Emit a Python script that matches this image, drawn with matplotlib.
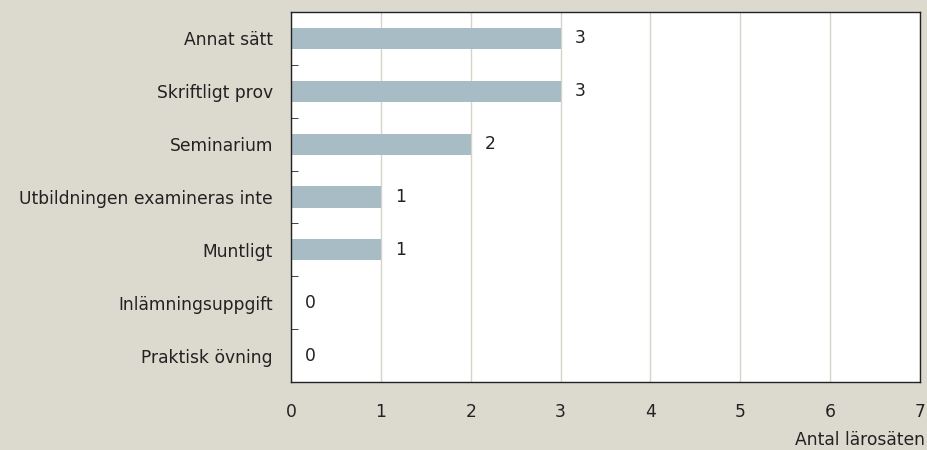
import numpy as np
import matplotlib.pyplot as plt

categories = ['Annat sätt', 'Skriftligt prov', 'Seminarium',
              'Utbildningen examineras inte', 'Muntligt',
              'Inlämningsuppgift', 'Praktisk övning']
values = [3, 3, 2, 1, 1, 0, 0]
x_ticks = [0, 1, 2, 3, 4, 5, 6, 7]
x_label = 'Antal lärosäten'

bg = '#dcd9ce'
bar_color = '#a8bcc6'
fs = 12.3

plt.rcParams['font.family'] = ['DejaVu Sans']

fig = plt.figure(figsize=(9.27, 4.5), dpi=100, facecolor=bg)
ax = fig.add_axes([291 / 927, 1 - 382 / 450, (920 - 291) / 927, (382 - 12) / 450])
ax.set_facecolor('white')

y = np.arange(len(categories))
ax.barh(y, values, height=0.4, color=bar_color, zorder=2)
for yi, v in zip(y, values):
    ax.text(v + 0.22, yi, str(v), va='center', ha='center', fontsize=fs, color='#222222')

ax.set_xlim(0, 7)
ax.set_ylim(len(categories) - 0.5, -0.5)
ax.set_xticks(x_ticks)
ax.set_xticklabels([str(t) for t in x_ticks], fontsize=fs, color='#222222')
ax.set_yticks(y)
ax.set_yticklabels(categories, fontsize=fs, color='#222222')
ax.set_yticks(np.arange(0.5, len(categories) - 0.5, 1), minor=True)
ax.tick_params(axis='y', which='major', length=0, pad=13)
ax.tick_params(axis='y', which='minor', length=5, direction='in', color='#222222')
ax.tick_params(axis='x', length=0, pad=15)
ax.grid(axis='x', color='#d6d4c9', linewidth=1, zorder=1)
for s in ax.spines.values():
    s.set_color('#222222')
    s.set_linewidth(1)

fig.text(925 / 927, 1 - 440 / 450, x_label, ha='right', va='center', fontsize=fs, color='#222222')

fig.savefig('out.png', dpi=100, facecolor=bg)
